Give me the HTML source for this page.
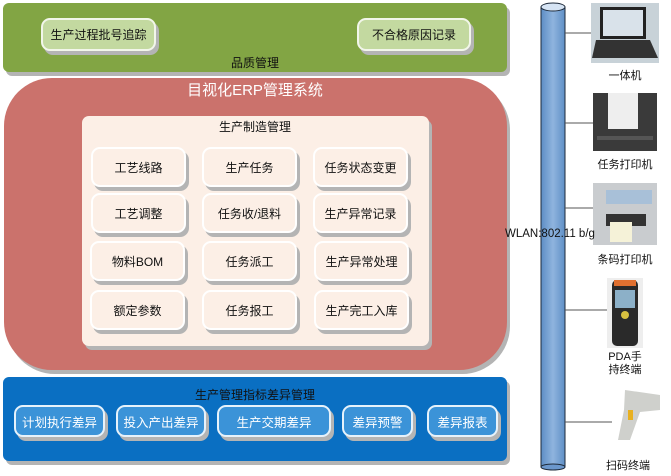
<!DOCTYPE html>
<html><head><meta charset="utf-8"><style>
*{margin:0;padding:0;box-sizing:border-box}
body{width:671px;height:476px;background:#fff;position:relative;overflow:hidden;font-family:"Liberation Sans","Noto Sans CJK SC",sans-serif;font-size:12px;color:#111}
.a{position:absolute}
.sh{box-shadow:3px 4px 0 #b4b4b4}
.c{display:flex;align-items:center;justify-content:center;white-space:nowrap}
.g{background:#c3d9a0;border:2px solid #f2f6ea;border-radius:9px}
.cell{background:#fcefe6;border:2px solid #fff;border-radius:9px;width:95px;height:40px}
.b{background:#3b93d8;border:2px solid #e6f2fb;border-radius:9px;color:#fff;height:32px;font-size:12.5px}
.lbl{font-size:11px;text-align:center;width:80px}
.ln{height:1px;background:#555}
</style></head><body>
<div class="a sh" style="left:3px;top:3px;width:504px;height:69px;background:#82a544;border-radius:6px"></div>
<div class="a g c sh" style="left:41px;top:18px;width:115px;height:33px">生产过程批号追踪</div>
<div class="a g c sh" style="left:357px;top:18px;width:114px;height:33px">不合格原因记录</div>
<div class="a c" style="left:200px;top:54px;width:110px;height:16px">品质管理</div>

<div class="a sh" style="left:4px;top:78px;width:503px;height:292px;background:#cb726c;border-radius:48px"></div>
<div class="a c" style="left:150px;top:78px;width:210px;height:22px;color:#fff;font-size:15px">目视化ERP管理系统</div>
<div class="a sh" style="left:82px;top:116px;width:347px;height:230px;background:#fcefe6;border-radius:7px"></div>
<div class="a c" style="left:200px;top:118px;width:110px;height:16px">生产制造管理</div>

<div class="a cell c sh" style="left:91px;top:147px">工艺线路</div>
<div class="a cell c sh" style="left:202px;top:147px">生产任务</div>
<div class="a cell c sh" style="left:313px;top:147px">任务状态变更</div>
<div class="a cell c sh" style="left:91px;top:193px">工艺调整</div>
<div class="a cell c sh" style="left:202px;top:193px">任务收/退料</div>
<div class="a cell c sh" style="left:313px;top:193px">生产异常记录</div>
<div class="a cell c sh" style="left:90px;top:241px">物料BOM</div>
<div class="a cell c sh" style="left:202px;top:241px">任务派工</div>
<div class="a cell c sh" style="left:314px;top:241px">生产异常处理</div>
<div class="a cell c sh" style="left:90px;top:290px">额定参数</div>
<div class="a cell c sh" style="left:202px;top:290px">任务报工</div>
<div class="a cell c sh" style="left:314px;top:290px">生产完工入库</div>

<div class="a sh" style="left:3px;top:377px;width:504px;height:84px;background:#0a6fc2;border-radius:6px"></div>
<div class="a c" style="left:180px;top:386px;width:150px;height:16px">生产管理指标差异管理</div>
<div class="a b c sh" style="left:14px;top:405px;width:91px">计划执行差异</div>
<div class="a b c sh" style="left:116px;top:405px;width:90px">投入产出差异</div>
<div class="a b c sh" style="left:217px;top:405px;width:114px">生产交期差异</div>
<div class="a b c sh" style="left:342px;top:405px;width:71px">差异预警</div>
<div class="a b c sh" style="left:427px;top:405px;width:71px">差异报表</div>

<svg class="a" style="left:0;top:0" width="671" height="476">
<defs><linearGradient id="p" x1="0" x2="1"><stop offset="0" stop-color="#5d8dc4"/><stop offset=".5" stop-color="#8fb4de"/><stop offset="1" stop-color="#5f8fc6"/></linearGradient></defs>
<rect x="541" y="7" width="24" height="460" fill="url(#p)" stroke="#1e2a3a" stroke-width="1"/>
<ellipse cx="553" cy="467" rx="12" ry="3" fill="#6b97cc" stroke="#1e2a3a"/>
<ellipse cx="553" cy="7" rx="12" ry="4" fill="#d6e4f4" stroke="#1e2a3a"/>
<g stroke="#555" stroke-width="1">
<line x1="565" y1="33" x2="592" y2="33"/><line x1="565" y1="123" x2="594" y2="123"/>
<line x1="565" y1="208" x2="594" y2="208"/><line x1="565" y1="310" x2="608" y2="310"/><line x1="565" y1="422" x2="612" y2="422"/>
</g>
<!-- all-in-one -->
<rect x="591" y="3" width="68" height="60" fill="#c8d2d8"/>
<rect x="600" y="7" width="46" height="32" fill="#222"/><rect x="603" y="10" width="40" height="26" fill="#d9e2ea"/>
<polygon points="596,40 650,40 658,58 592,58" fill="#333"/>
<!-- printer -->
<rect x="593" y="93" width="64" height="58" fill="#3a3a3a"/>
<rect x="608" y="93" width="30" height="36" fill="#eee"/>
<rect x="597" y="136" width="56" height="4" fill="#555"/>
<!-- barcode printer -->
<rect x="593" y="183" width="64" height="62" fill="#c9cccf"/>
<rect x="606" y="190" width="46" height="14" fill="#a8c0d8"/>
<rect x="606" y="214" width="40" height="12" fill="#333"/>
<rect x="610" y="222" width="22" height="20" fill="#f5f2d8"/>
<!-- PDA -->
<rect x="607" y="278" width="36" height="70" fill="#eeeeee"/>
<rect x="612" y="280" width="26" height="66" rx="5" fill="#2a2a2a"/>
<rect x="614" y="280" width="22" height="6" fill="#e07030"/>
<rect x="615" y="290" width="20" height="18" fill="#8cb0c8"/>
<circle cx="625" cy="315" r="4" fill="#d8c040"/>
<!-- scanner -->
<polygon points="625,390 660,395 660,410 640,412 630,440 618,440 624,410" fill="#cfd0cc"/>
<rect x="628" y="410" width="5" height="10" fill="#e8b020"/>
</svg>
<div class="a" style="left:505px;top:228px;font-size:11.5px;background:transparent">WLAN:802.11 b/g</div>
<div class="a lbl" style="left:585px;top:67px">一体机</div>
<div class="a lbl" style="left:585px;top:156px">任务打印机</div>
<div class="a lbl" style="left:585px;top:251px">条码打印机</div>
<div class="a lbl" style="left:585px;top:351px;line-height:13px">PDA手<br>持终端</div>
<div class="a lbl" style="left:588px;top:457px">扫码终端</div>
</body></html>
